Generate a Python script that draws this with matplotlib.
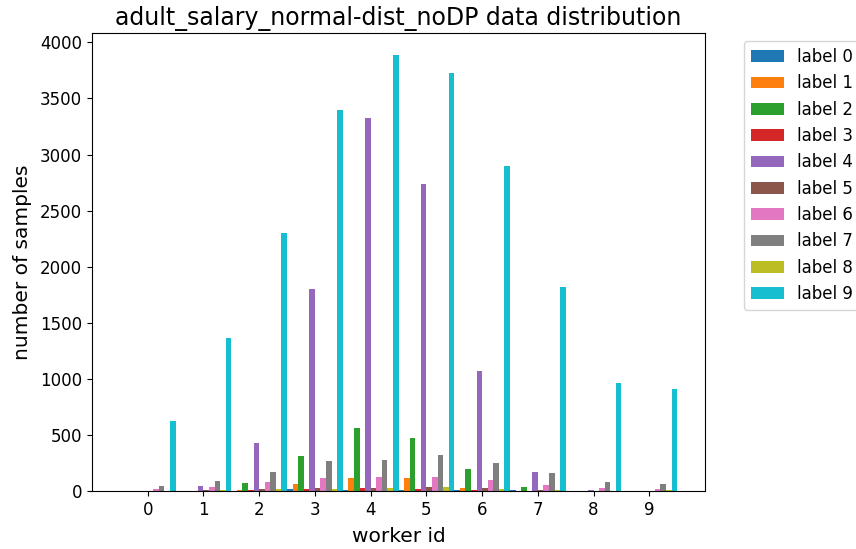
import numpy as np
import matplotlib
matplotlib.use("Agg")
import matplotlib.pyplot as plt

# -------------------------------------------------------
# Data
# -------------------------------------------------------
workers = [0, 1, 2, 3, 4, 5, 6, 7, 8, 9]
labels = ["label %d" % i for i in range(10)]

# counts[label][worker]
label0 = [0, 0, 0, 18, 12, 12, 9, 5, 0, 3]
label1 = [0, 0, 10, 63, 117, 117, 30, 0, 0, 0]
label2 = [0, 0, 75, 311, 559, 475, 197, 38, 0, 0]
label3 = [0, 0, 5, 18, 27, 18, 9, 0, 0, 0]
label4 = [0, 42, 430, 1800, 3330, 2740, 1070, 170, 9, 0]
label5 = [0, 10, 18, 24, 30, 33, 27, 8, 0, 0]
label6 = [15, 36, 78, 117, 126, 126, 99, 54, 27, 18]
label7 = [45, 90, 168, 269, 281, 317, 251, 164, 84, 63]
label8 = [0, 5, 18, 18, 27, 33, 18, 12, 0, 5]
label9 = [620, 1360, 2300, 3400, 3890, 3730, 2900, 1820, 960, 910]

counts = [label0, label1, label2, label3, label4,
          label5, label6, label7, label8, label9]

title = "adult_salary_normal-dist_noDP data distribution"

# -------------------------------------------------------
# Plot
# -------------------------------------------------------
fig, ax = plt.subplots(figsize=(8.56, 5.49), dpi=100)
fig.subplots_adjust(left=0.1075, right=0.8236, top=0.94, bottom=0.1056)

x = np.arange(len(workers))
width = 0.1
for i, vals in enumerate(counts):
    ax.bar(x + (i - 4.5) * width, vals, width, label=labels[i])

ax.set_xticks(x)
ax.set_xticklabels([str(w) for w in workers])
ax.tick_params(labelsize=12)
ax.set_xlabel("worker id", fontsize=14.5, labelpad=6)
ax.set_ylabel("number of samples", fontsize=14.5, labelpad=6)
ax.set_title(title, fontsize=17)
ax.legend(loc="upper left", bbox_to_anchor=(1.05, 1), fontsize=12)

fig.savefig("out.png", dpi=100)
